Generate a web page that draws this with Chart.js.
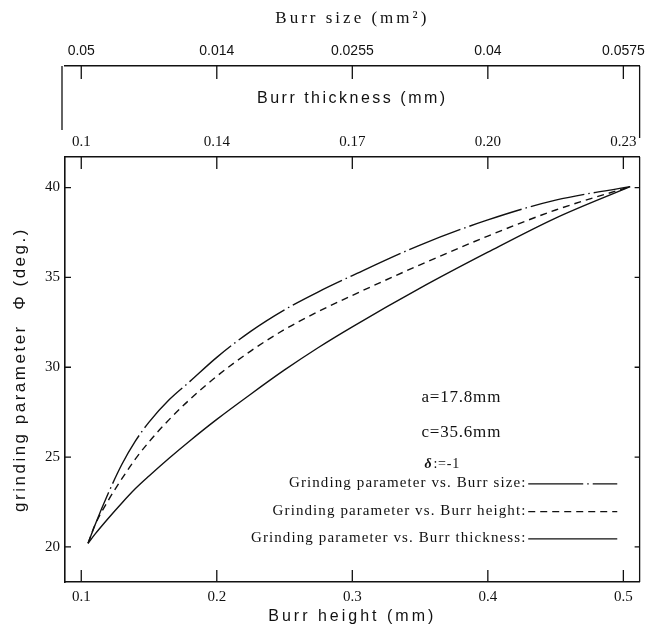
<!DOCTYPE html>
<html>
<head>
<meta charset="utf-8">
<title>Grinding parameter vs. burr dimensions</title>
<script src="https://cdn.jsdelivr.net/npm/chart.js@4.4.1/dist/chart.umd.min.js"></script>
<style>
  html, body { margin: 0; padding: 0; background: #fff; }
</style>
</head>
<body>
<canvas id="chart" width="651" height="635"></canvas>
<script>
// burr height (mm) - shared x values of the three curves
const burrHeight = [0.105, 0.11, 0.12, 0.13, 0.14, 0.15, 0.165, 0.18, 0.2, 0.225, 0.25, 0.275, 0.3, 0.35, 0.4, 0.45, 0.505];
// grinding parameter phi (deg.)
const phiVsSize      = [20.2, 21.2, 23.0, 24.6, 25.9, 26.95, 28.2, 29.2, 30.55, 32.0, 33.2, 34.2, 35.1, 36.8, 38.2, 39.3, 40.05];
const phiVsHeight    = [20.2, 21.2, 22.6, 23.8, 24.9, 25.85, 27.1, 28.2, 29.5, 30.9, 32.1, 33.1, 34.0, 35.7, 37.3, 38.75, 40.05];
const phiVsThickness = [20.2, 20.7, 21.6, 22.45, 23.25, 23.95, 24.95, 25.9, 27.1, 28.5, 29.85, 31.1, 32.25, 34.4, 36.4, 38.3, 40.05];

// tick labels
const heightTicks = [0.1, 0.2, 0.3, 0.4, 0.5];
const thicknessLabels = ['0.1', '0.14', '0.17', '0.20', '0.23'];
const sizeLabels = ['0.05', '0.014', '0.0255', '0.04', '0.0575'];
const phiTicks = [20, 25, 30, 35, 40];

const seriesNames = [
  'Grinding parameter vs. Burr size:',
  'Grinding parameter vs. Burr height:',
  'Grinding parameter vs. Burr thickness:'
];
const notes = ['a=17.8mm', 'c=35.6mm', 'δ', ':=-1'];

const INK = '#111';
const dashes = [[55, 4, 1.5, 4], [7, 5], []];
const serif = '"Liberation Serif", "DejaVu Serif", serif';
const sans = '"Liberation Sans", Arial, sans-serif';

// the scanned figure has widely spaced axis titles
const titleSpacing = { x: '3px', y: '2.5px', xThick: '2.5px', xSize: '3px' };

class SpacedLinearScale extends Chart.LinearScale {
  drawTitle() {
    const ctx = this.ctx;
    ctx.save();
    ctx.letterSpacing = titleSpacing[this.id] || '0px';
    super.drawTitle();
    ctx.restore();
  }
}
SpacedLinearScale.id = 'spacedLinear';
SpacedLinearScale.defaults = Chart.LinearScale.defaults;
Chart.register(SpacedLinearScale);

function toPoints(ys) {
  return burrHeight.map((h, i) => ({ x: h, y: ys[i] }));
}

function fixedTicks(values) {
  return (scale) => { scale.ticks = values.map(v => ({ value: v })); };
}

// ticks pointing inward, the right frame line, the bracket of the size scale,
// the a / c / delta notes and the legend written as text + line sample
const extras = {
  id: 'extras',
  afterDraw(chart) {
    const { ctx, chartArea: ca, scales } = chart;
    ctx.save();
    ctx.strokeStyle = INK;
    ctx.lineWidth = 1.3;

    ctx.beginPath();
    ctx.moveTo(ca.right, ca.top);
    ctx.lineTo(ca.right, ca.bottom);
    scales.x.ticks.forEach(t => {
      const px = scales.x.getPixelForValue(t.value);
      ctx.moveTo(px, ca.bottom); ctx.lineTo(px, ca.bottom - 12);
      ctx.moveTo(px, ca.top); ctx.lineTo(px, ca.top + 12);
    });
    scales.y.ticks.forEach(t => {
      const py = scales.y.getPixelForValue(t.value);
      ctx.moveTo(ca.left, py); ctx.lineTo(ca.left + 6, py);
      ctx.moveTo(ca.right, py); ctx.lineTo(ca.right - 5, py);
    });
    const sz = scales.xSize;
    sz.ticks.forEach(t => {
      const px = sz.getPixelForValue(t.value);
      ctx.moveTo(px, sz.bottom); ctx.lineTo(px, sz.bottom + 13);
    });
    ctx.moveTo(ca.left - 3, sz.bottom); ctx.lineTo(ca.left - 3, sz.bottom + 64);
    ctx.moveTo(ca.right, sz.bottom); ctx.lineTo(ca.right, sz.bottom + 72);
    ctx.stroke();

    ctx.fillStyle = INK;
    ctx.textBaseline = 'middle';
    ctx.textAlign = 'left';
    ctx.font = '17px ' + serif;
    ctx.letterSpacing = '0.8px';
    const nx = scales.x.getPixelForValue(0.351);
    ctx.fillText(notes[0], nx, scales.y.getPixelForValue(28.3));
    ctx.fillText(notes[1], nx, scales.y.getPixelForValue(26.35));
    const dy = scales.y.getPixelForValue(24.6);
    ctx.font = 'italic bold 14px ' + serif;
    ctx.fillText(notes[2], nx + 3, dy);
    ctx.font = '14px ' + serif;
    ctx.fillText(notes[3], nx + 12, dy);

    ctx.font = '15px ' + serif;
    ctx.letterSpacing = '1.1px';
    ctx.textAlign = 'right';
    const rows = [23.57, 22.02, 20.5];
    const textRight = scales.x.getPixelForValue(0.4285);
    const lineL = scales.x.getPixelForValue(0.4298);
    const lineR = scales.x.getPixelForValue(0.4955);
    seriesNames.forEach((name, i) => {
      const py = scales.y.getPixelForValue(rows[i]);
      ctx.fillText(name, textRight, py);
      ctx.setLineDash(dashes[i]);
      ctx.lineWidth = 1.2;
      ctx.beginPath();
      ctx.moveTo(lineL, py + 1); ctx.lineTo(lineR, py + 1);
      ctx.stroke();
    });
    ctx.restore();
  }
};

const xRange = { min: 0.088, max: 0.512 };

new Chart(document.getElementById('chart'), {
  type: 'line',
  data: {
    datasets: [
      { label: 'Burr size', data: toPoints(phiVsSize), borderDash: dashes[0] },
      { label: 'Burr height', data: toPoints(phiVsHeight), borderDash: dashes[1] },
      { label: 'Burr thickness', data: toPoints(phiVsThickness), borderDash: dashes[2] }
    ].map(d => Object.assign(d, {
      borderColor: INK, borderWidth: 1.4, pointRadius: 0,
      cubicInterpolationMode: 'monotone', fill: false
    }))
  },
  options: {
    responsive: false,
    animation: false,
    layout: { padding: { top: 0, left: 0, right: 8, bottom: 0 } },
    plugins: { legend: { display: false }, tooltip: { enabled: false } },
    scales: {
      x: {
        type: 'spacedLinear', position: 'bottom', ...xRange,
        afterBuildTicks: fixedTicks(heightTicks),
        afterFit: s => { s.height = 53; },
        grid: { display: false, drawTicks: false },
        border: { color: INK, width: 1.6 },
        ticks: { padding: 6, color: INK, font: { family: serif, size: 15 },
                 callback: v => v.toFixed(1) },
        title: { display: true, text: 'Burr height (mm)', color: INK,
                 font: { family: sans, size: 16 }, padding: { top: 0, bottom: 9 } }
      },
      xThick: {
        type: 'spacedLinear', position: 'top', weight: 1, ...xRange,
        afterBuildTicks: fixedTicks(heightTicks),
        afterFit: s => { s.height = 91; },
        grid: { display: false, drawTicks: false },
        border: { color: INK, width: 1.6 },
        ticks: { padding: 6, color: INK, font: { family: serif, size: 15 },
                 callback: (v, i) => thicknessLabels[i] },
        title: { display: true, text: 'Burr thickness (mm)', color: INK,
                 font: { family: sans, size: 16 }, padding: { top: 23, bottom: 0 } }
      },
      xSize: {
        type: 'spacedLinear', position: 'top', weight: 2, ...xRange,
        afterBuildTicks: fixedTicks(heightTicks),
        afterFit: s => { s.height = 66; },
        grid: { display: false, drawTicks: false },
        border: { color: INK, width: 1.6 },
        ticks: { padding: 6, color: INK, font: { family: sans, size: 14 },
                 callback: (v, i) => sizeLabels[i] },
        title: { display: true, text: 'Burr size (mm²)', color: INK,
                 font: { family: serif, size: 17 }, padding: { top: 8, bottom: 0 } }
      },
      y: {
        type: 'spacedLinear', position: 'left', min: 18.05, max: 41.7,
        afterBuildTicks: fixedTicks(phiTicks),
        afterFit: s => { s.width = 65; },
        grid: { display: false, drawTicks: false },
        border: { color: INK, width: 1.6 },
        ticks: { padding: 5, color: INK, font: { family: serif, size: 15 } },
        title: { display: true, text: 'grinding parameter  Φ (deg.)', color: INK,
                 font: { family: sans, size: 17 }, padding: { top: 10, bottom: 0 } }
      }
    }
  },
  plugins: [extras]
});
</script>
</body>
</html>
